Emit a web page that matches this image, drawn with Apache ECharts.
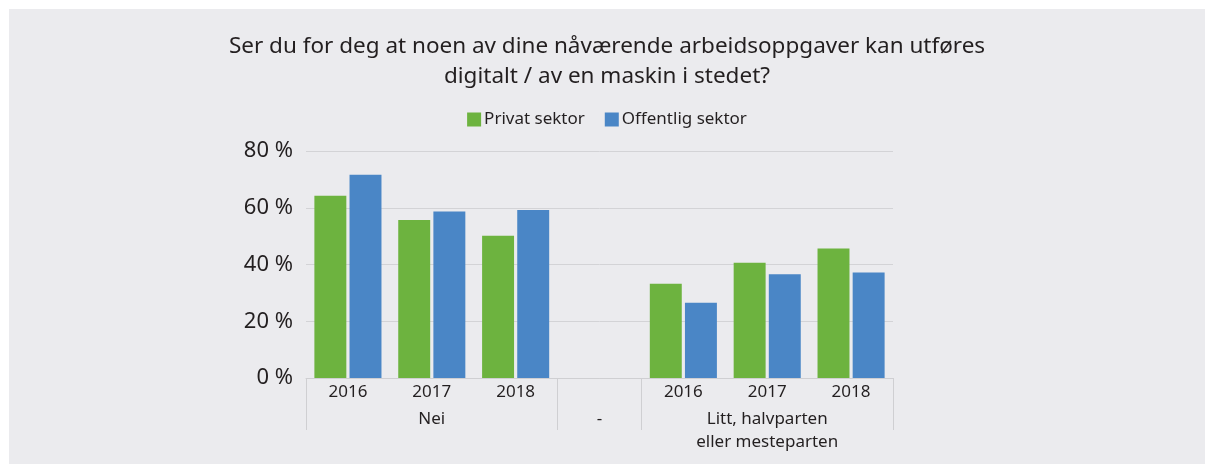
<!DOCTYPE html>
<html>
	<head>
		<meta http-equiv="Content-Type" content="text/html; charset=utf-8"/>
		<title>Arbeidsoppgaver</title>
		<script src="https://cdn.jsdelivr.net/npm/echarts@6/dist/echarts.min.js"></script>
		<style>
			body{margin:0;background:#fff;}
			#tu{position:absolute;left:9px;top:9px;width:1196px;height:455px;}
		</style>
	</head>
	<body>
		<div id="tu"></div>
		<script type="text/javascript">
			var years = ['2016', '2017', '2018', '', '2016', '2017', '2018'];
			var groups = ['', 'Nei', '', '-', '', 'Litt, halvparten\neller mesteparten', ''];
			var privat = [64.2, 55.7, 50.1, null, 33.2, 40.6, 45.6];
			var offentlig = [71.6, 58.7, 59.2, null, 26.5, 36.6, 37.2];
			var seriesNames = ['Privat sektor', 'Offentlig sektor'];
			var yTicks = [0, 20, 40, 60, 80];

			var font = 'Noto Sans';
			var txt = '#231f20';
			var myChart = echarts.init(document.getElementById('tu'));
			var option = {
				backgroundColor: '#ebebee',
				color: ['#6db33f', '#4a86c6'],
				textStyle: {fontFamily: font},
				title: {
					text: 'Ser du for deg at noen av dine nåværende arbeidsoppgaver kan utføres\ndigitalt / av en maskin i stedet?',
					left: 'center', top: 18,
					textStyle: {fontFamily: font, fontSize: 22.5, fontWeight: 'normal', color: txt, lineHeight: 30, align: 'center'}
				},
				legend: {
					top: 97, left: 'center',
					itemWidth: 14, itemHeight: 14, itemGap: 20,
					icon: 'rect',
					textStyle: {fontFamily: font, fontSize: 17, color: txt, padding: [0, 0, 0, -2]},
					data: seriesNames
				},
				grid: {left: 297, right: 312, top: 142, bottom: 86},
				xAxis: [
					{
						type: 'category', data: years, position: 'bottom',
						axisLine: {show: true, lineStyle: {color: '#cfcfd2', width: 1}},
						axisTick: {
							show: true, length: 52,
							interval: function(i){ return i === 0 || i === 3 || i === 4; },
							lineStyle: {color: '#cfcfd2'}
						},
						axisLabel: {interval: 0, margin: 6, fontSize: 17, color: txt, fontFamily: font}
					},
					{
						type: 'category', data: groups, position: 'bottom',
						axisLine: {show: false}, axisTick: {show: false},
						axisLabel: {interval: 0, margin: 30, fontSize: 17, lineHeight: 23, color: txt, fontFamily: font}
					}
				],
				yAxis: {
					type: 'value', min: yTicks[0], max: yTicks[yTicks.length - 1], interval: 20,
					axisLine: {show: false}, axisTick: {show: false},
					axisLabel: {formatter: '{value} %', fontSize: 22, color: txt, margin: 13, fontFamily: font},
					splitLine: {lineStyle: {color: '#d3d3d6', width: 1}}
				},
				series: [
					{name: seriesNames[0], type: 'bar', data: privat, barGap: '10%', barCategoryGap: '20%'},
					{name: seriesNames[1], type: 'bar', data: offentlig, barGap: '10%', barCategoryGap: '20%'}
				]
			};
			myChart.setOption(option);
		</script>
	</body>
</html>
